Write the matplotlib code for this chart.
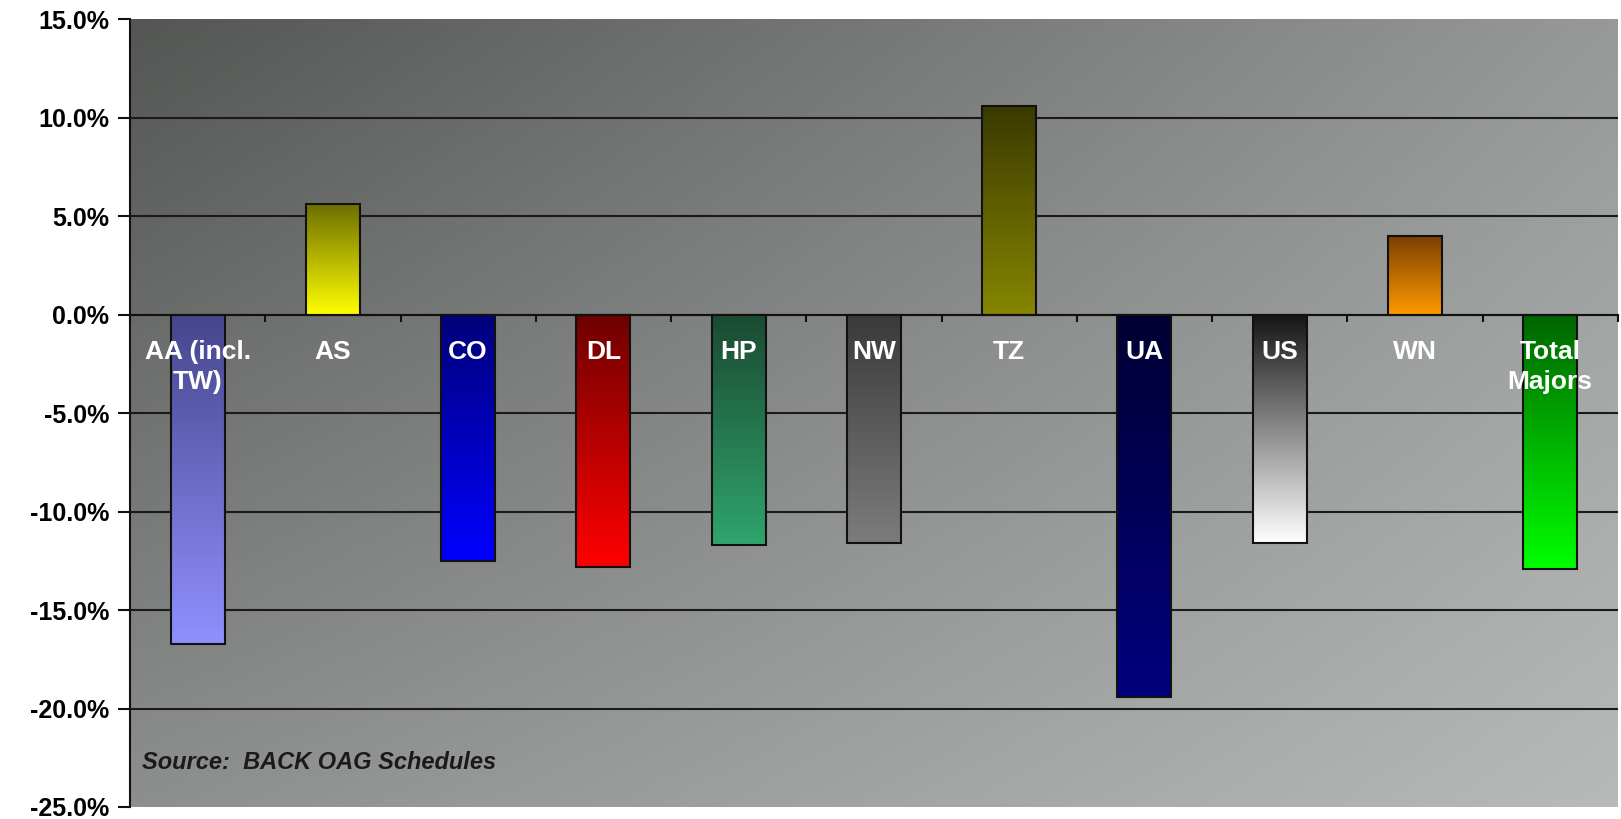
import numpy as np
import matplotlib.pyplot as plt
from matplotlib.colors import LinearSegmentedColormap

plt.rcParams['font.family'] = ['Liberation Sans', 'DejaVu Sans']

# data
carriers = ['AA (incl.\nTW)', 'AS', 'CO', 'DL', 'HP', 'NW', 'TZ', 'UA', 'US', 'WN', 'Total\nMajors']
change_pct = [-16.7, 5.6, -12.5, -12.8, -11.7, -11.6, 10.6, -19.4, -11.6, 4.0, -12.9]
y_ticks = [-25, -20, -15, -10, -5, 0, 5, 10, 15]
source_note = 'Source:  BACK OAG Schedules'

# bar gradients, dark at the top edge to bright at the bottom edge
top_colors = ['#46468c', '#6e6e00', '#00007a', '#6e0000', '#1a4a32', '#3a3a3a',
              '#3a3a00', '#000033', '#141414', '#7a4000', '#006400']
bottom_colors = ['#9090ff', '#ffff00', '#0000ff', '#ff0000', '#30a46c', '#7c7c7c',
                 '#868600', '#00007e', '#ffffff', '#ff9a00', '#00ff00']

fig = plt.figure(figsize=(16.21, 8.19), dpi=100)
ax = fig.add_axes([0.0802, 0.0147, 0.9178, 0.9617])

# diagonal grey background of the plot area
n = 256
u = np.linspace(0, 1, n)
U, V = np.meshgrid(u, u)
tl = np.array([84, 86, 84])
tr = np.array([150, 153, 151])
bl = np.array([140, 143, 141])
br = np.array([182, 186, 184])
bg = (tl * ((1 - U) * (1 - V))[..., None] + tr * (U * (1 - V))[..., None]
      + bl * ((1 - U) * V)[..., None] + br * (U * V)[..., None]) / 255.0
ax.imshow(bg, extent=[0, 1, 0, 1], transform=ax.transAxes, origin='upper',
          aspect='auto', zorder=-1)

x = np.arange(len(carriers))
bars = ax.bar(x, change_pct, width=0.4, color='none', edgecolor='#111111',
              linewidth=1.5, zorder=3)

grad = np.linspace(0, 1, 256)[:, None]
for bar, c0, c1 in zip(bars, top_colors, bottom_colors):
    cmap = LinearSegmentedColormap.from_list('g', [c0, c1])
    x0 = bar.get_x()
    x1 = x0 + bar.get_width()
    y0 = min(0, bar.get_height())
    y1 = max(0, bar.get_height())
    ax.imshow(grad, cmap=cmap, extent=[x0, x1, y0, y1], origin='upper',
              aspect='auto', zorder=2)

for i, name in enumerate(carriers):
    ax.text(i, -1.3, name, ha='center', va='top', color='white', fontsize=19,
            fontweight='bold', linespacing=1.3, zorder=4)

ax.text(0.008, 0.056, source_note, transform=ax.transAxes, ha='left', va='center',
        color='#1a1a1a', fontsize=17, fontweight='bold', style='italic', zorder=4)

ax.set_xlim(-0.5, len(carriers) - 0.5)
ax.set_ylim(-25, 15)
ax.set_yticks(y_ticks)
ax.set_yticklabels(['%.1f%%' % v for v in y_ticks], fontsize=18, fontweight='bold')
ax.set_xticks(np.arange(-0.5, len(carriers), 1))
ax.set_xticklabels([])
ax.tick_params(axis='x', direction='out', length=5, width=1.5, color='#111111')
ax.tick_params(axis='y', direction='out', length=9, width=1.5, color='#111111', pad=6)

ax.yaxis.grid(True, color='#1a1a1a', linewidth=1.5)
ax.set_axisbelow(True)
gl = ax.yaxis.get_gridlines()
gl[0].set_visible(False)
gl[-1].set_visible(False)

ax.spines['top'].set_visible(False)
ax.spines['right'].set_visible(False)
ax.spines['left'].set_color('#111111')
ax.spines['left'].set_linewidth(1.5)
ax.spines['bottom'].set_position(('data', 0))
ax.spines['bottom'].set_color('#111111')
ax.spines['bottom'].set_linewidth(1.5)
ax.spines['bottom'].set_zorder(3.5)

fig.savefig('out.png', dpi=100)
